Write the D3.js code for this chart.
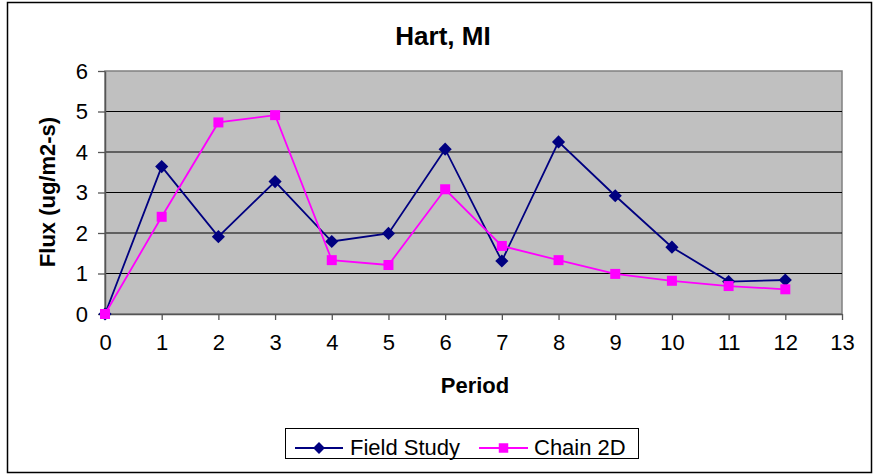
<!DOCTYPE html>
<html><head><meta charset="utf-8">
<script src="https://cdn.jsdelivr.net/npm/d3@7"></script>
<style>body{margin:0;background:#fff}svg{display:block}text{font-family:Arial,"Liberation Sans",sans-serif}</style>
</head><body><svg id="c" width="877" height="475"></svg>
<script>
const periods = [0,1,2,3,4,5,6,7,8,9,10,11,12];
const fieldStudy = [0,3.64,1.91,3.27,1.79,1.99,4.07,1.31,4.25,2.92,1.65,0.80,0.84];
const chain2D = [0,2.40,4.73,4.91,1.33,1.21,3.08,1.68,1.33,0.99,0.82,0.69,0.61];
const xTicks = [0,1,2,3,4,5,6,7,8,9,10,11,12,13];
const yTicks = [0,1,2,3,4,5,6];
const title = "Hart, MI", xTitle = "Period", yTitle = "Flux (ug/m2-s)";
const seriesNames = ["Field Study","Chain 2D"];

const svg = d3.select("#c");
const L=105,R=842,T=71,B=314;
const x = d3.scaleLinear().domain([0,13]).range([L,R]);
const y = d3.scaleLinear().domain([0,6]).range([B,T]);

svg.append("rect").attr("x",7.5).attr("y",2.5).attr("width",864).attr("height",470)
  .attr("fill","#fff").attr("stroke","#000").attr("stroke-width",1.5);

svg.append("rect").attr("x",L).attr("y",T).attr("width",R-L).attr("height",B-T)
  .attr("fill","#C0C0C0").attr("stroke","#808080").attr("stroke-width",1.5);

svg.append("g").selectAll("line").data(yTicks.filter(d=>d>0&&d<6)).join("line")
  .attr("x1",L).attr("x2",R).attr("y1",d=>y(d)).attr("y2",d=>y(d))
  .attr("stroke","#000").attr("stroke-width",1.2);

const xa = svg.append("g").attr("transform",`translate(0,${B})`)
  .call(d3.axisBottom(x).tickValues(xTicks).tickFormat(d3.format("d")).tickSize(6).tickPadding(14).tickSizeOuter(0));
const ya = svg.append("g").attr("transform",`translate(${L},0)`)
  .call(d3.axisLeft(y).tickValues(yTicks).tickFormat(d3.format("d")).tickSize(7).tickPadding(10).tickSizeOuter(0));
[xa,ya].forEach(a=>{
  a.select(".domain").attr("stroke","#555").attr("stroke-width",1.5);
  a.selectAll(".tick line").attr("stroke","#555").attr("stroke-width",1.3);
  a.selectAll("text").attr("font-size",22).attr("fill","#000").attr("font-family","Arial,'Liberation Sans',sans-serif");
});

const line = d3.line().x((d,i)=>x(periods[i])).y(d=>y(d));
const sym = d3.symbol();
function drawSeries(vals,color,type,size){
  svg.append("path").datum(vals).attr("d",line).attr("fill","none").attr("stroke",color).attr("stroke-width",1.8);
  svg.append("g").selectAll("path").data(vals).join("path")
    .attr("transform",(d,i)=>`translate(${x(periods[i])},${y(d)})`)
    .attr("d",sym.type(type).size(size)()).attr("fill",color);
}
drawSeries(fieldStudy,"#000080",d3.symbolDiamond2,110);
drawSeries(chain2D,"#FF00FF",d3.symbolSquare,100);

svg.append("text").attr("x",443).attr("y",45).attr("text-anchor","middle")
  .attr("font-size",26).attr("font-weight","bold").text(title);
svg.append("text").attr("x",475).attr("y",393).attr("text-anchor","middle")
  .attr("font-size",22).attr("font-weight","bold").text(xTitle);
svg.append("text").attr("transform","translate(55,192) rotate(-90)").attr("text-anchor","middle")
  .attr("font-size",22).attr("font-weight","bold").text(yTitle);

// legend
const lg = svg.append("g");
lg.append("rect").attr("x",285.5).attr("y",428.5).attr("width",353).attr("height",30)
  .attr("fill","#fff").attr("stroke","#000").attr("stroke-width",1);
const items = [{n:seriesNames[0],c:"#000080",t:d3.symbolDiamond2,x0:295,x1:343,tx:350},
               {n:seriesNames[1],c:"#FF00FF",t:d3.symbolSquare,x0:479,x1:528,tx:534}];
items.forEach(it=>{
  lg.append("line").attr("x1",it.x0).attr("x2",it.x1).attr("y1",448).attr("y2",448).attr("stroke",it.c).attr("stroke-width",1.8);
  lg.append("path").attr("transform",`translate(${(it.x0+it.x1)/2},448)`).attr("d",d3.symbol().type(it.t).size(90)()).attr("fill",it.c);
  lg.append("text").attr("x",it.tx).attr("y",455).attr("font-size",22).text(it.n);
});
</script></body></html>
